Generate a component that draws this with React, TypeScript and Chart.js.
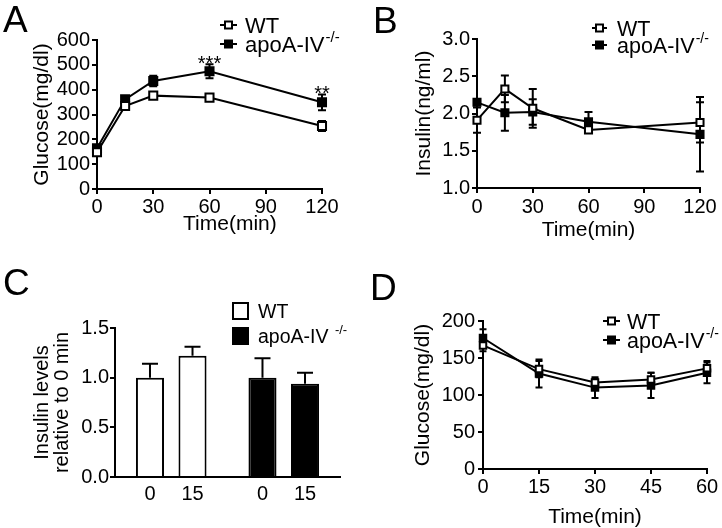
import React, { useEffect, useRef } from "react";
import { Chart, registerables } from "chart.js";

Chart.register(...registerables);

const FONT = "'Liberation Sans', Arial, Helvetica, sans-serif";

// ---------- shared legend text ----------
const seriesNames = ["WT", "apoA-IV"];
const seriesSup = ["", "-/-"];

// ---------- Panel A: glucose (mg/dl) ----------
const timeA = [0, 15, 30, 60, 120];
const glucoseWT_A = [148, 334, 376, 368, 254];
const glucoseWT_A_sem = [8, 8, 13, 10, 20];
const glucoseKO_A = [164, 361, 435, 474, 349];
const glucoseKO_A_sem = [10, 10, 21, 28, 32];
const sigA = ["", "", "", "***", "**"];
const yTicksA = [0, 100, 200, 300, 400, 500, 600];
const xTicksA = [0, 30, 60, 90, 120];

// ---------- Panel B: insulin (ng/ml) ----------
const timeB = [0, 15, 30, 60, 120];
const insulinWT_B = [1.91, 2.33, 2.07, 1.78, 1.88];
const insulinWT_B_sem = [0.17, 0.18, 0.26, 0.03, 0.27];
const insulinKO_B = [2.15, 2.01, 2.02, 1.89, 1.72];
const insulinKO_B_sem = [0.04, 0.24, 0.17, 0.13, 0.5];
const yTicksB = [1.0, 1.5, 2.0, 2.5, 3.0];
const xTicksB = [0, 30, 60, 90, 120];

// ---------- Panel C: insulin relative to 0 min ----------
const groupsC = ["WT", "apoA-IV-/-"];
const timesC = ["0", "15"];
const insulinRel0 = [1.0, 1.0];
const insulinRel0_sem = [0.14, 0.195];
const insulinRel15 = [1.22, 0.94];
const insulinRel15_sem = [0.09, 0.11];
const yTicksC = [0.0, 0.5, 1.0, 1.5];

// ---------- Panel D: glucose (mg/dl) ----------
const timeD = [0, 15, 30, 45, 60];
const glucoseWT_D = [167, 135, 117, 121, 136];
const glucoseWT_D_sem = [8, 11, 5, 9, 10];
const glucoseKO_D = [177, 129, 110, 113, 130];
const glucoseKO_D_sem = [12, 19, 14, 17, 14];
const yTicksD = [0, 50, 100, 150, 200];
const xTicksD = [0, 15, 30, 45, 60];

// ---------- plugins ----------
const errorBarsPlugin = {
  id: "errorBars",
  beforeDatasetsDraw(chart: any) {
    const ctx = chart.ctx;
    chart.data.datasets.forEach((ds: any, i: number) => {
      const errs = ds.errors;
      if (!errs) return;
      const meta = chart.getDatasetMeta(i);
      const yScale = chart.scales[meta.yAxisID];
      const cap = ds.errorCap || 8;
      const up = ds.errorMode === "up";
      ctx.save();
      ctx.strokeStyle = "#000";
      ctx.lineWidth = 2;
      meta.data.forEach((el: any, j: number) => {
        const raw = ds.data[j];
        const v = typeof raw === "object" ? raw.y : raw;
        const e = errs[j];
        if (!e) return;
        const x = el.x;
        const yTop = yScale.getPixelForValue(v + e);
        const yBot = up ? yScale.getPixelForValue(v) : yScale.getPixelForValue(v - e);
        ctx.beginPath();
        ctx.moveTo(x, yTop);
        ctx.lineTo(x, yBot);
        ctx.moveTo(x - cap / 2, yTop);
        ctx.lineTo(x + cap / 2, yTop);
        if (!up) {
          ctx.moveTo(x - cap / 2, yBot);
          ctx.lineTo(x + cap / 2, yBot);
        }
        ctx.stroke();
      });
      ctx.restore();
    });
  },
  afterDatasetsDraw(chart: any) {
    const ctx = chart.ctx;
    chart.data.datasets.forEach((ds: any, i: number) => {
      if (!ds.marks) return;
      const meta = chart.getDatasetMeta(i);
      const yScale = chart.scales[meta.yAxisID];
      ctx.save();
      ctx.fillStyle = "#000";
      ctx.font = `20px ${FONT}`;
      ctx.textAlign = "center";
      ctx.textBaseline = "alphabetic";
      meta.data.forEach((el: any, j: number) => {
        const m = ds.marks[j];
        if (!m) return;
        const raw = ds.data[j];
        const v = typeof raw === "object" ? raw.y : raw;
        const e = (ds.errors && ds.errors[j]) || 0;
        ctx.fillText(m, el.x, yScale.getPixelForValue(v + e) + 6);
      });
      ctx.restore();
    });
  },
};

const decorPlugin = {
  id: "decor",
  afterDraw(chart: any, _args: any, opts: any) {
    const ctx = chart.ctx;
    ctx.save();
    ctx.fillStyle = "#000";
    ctx.strokeStyle = "#000";
    if (opts.letter) {
      ctx.font = `37px ${FONT}`;
      ctx.textAlign = "left";
      ctx.textBaseline = "alphabetic";
      ctx.fillText(opts.letter.text, opts.letter.x, opts.letter.y);
    }
    if (opts.legend) {
      const L = opts.legend;
      const fs = L.fontSize || 21;
      L.rows.forEach((row: any) => {
        const cx = (L.mx0 + L.mx1) / 2;
        if (row.kind === "lineOpen" || row.kind === "lineFilled") {
          ctx.lineWidth = 2;
          ctx.beginPath();
          ctx.moveTo(L.mx0, row.y);
          ctx.lineTo(L.mx1, row.y);
          ctx.stroke();
          const s = L.sq || 7;
          ctx.fillStyle = row.kind === "lineOpen" ? "#fff" : "#000";
          ctx.fillRect(cx - s / 2, row.y - s / 2, s, s);
          ctx.strokeRect(cx - s / 2, row.y - s / 2, s, s);
          ctx.fillStyle = "#000";
        } else {
          ctx.lineWidth = 2;
          const w = L.mx1 - L.mx0;
          const h = L.boxH || 17;
          ctx.fillStyle = row.kind === "boxOpen" ? "#fff" : "#000";
          ctx.fillRect(L.mx0, row.y - h / 2, w, h);
          ctx.strokeRect(L.mx0 + 1, row.y - h / 2 + 1, w - 2, h - 2);
          ctx.fillStyle = "#000";
        }
        ctx.font = `${fs}px ${FONT}`;
        ctx.textAlign = "left";
        ctx.textBaseline = "alphabetic";
        ctx.fillText(row.text, L.tx, row.y + fs * 0.36);
        if (row.sup) {
          const w = ctx.measureText(row.text + (L.supGap ? " " : "")).width;
          ctx.font = `${Math.round(fs * 0.66)}px ${FONT}`;
          ctx.fillText(row.sup, L.tx + w + 1, row.y - fs * 0.1);
        }
      });
    }
    if (opts.barLabels) {
      ctx.font = `20px ${FONT}`;
      ctx.textAlign = "center";
      ctx.textBaseline = "middle";
      chart.data.datasets.forEach((ds: any, i: number) => {
        const meta = chart.getDatasetMeta(i);
        meta.data.forEach((el: any) => {
          ctx.fillText(ds.label, el.x, chart.chartArea.bottom + opts.barLabels.offset);
        });
      });
    }
    ctx.restore();
  },
};

// ---------- axis helpers ----------
const axisLine = { display: true, color: "#000", width: 2 };
const tickGrid = { display: true, drawOnChartArea: false, drawTicks: true, tickLength: 5, color: "#000", lineWidth: 2 };

function xLinear(ticks: number[], title: string, h: number, tp: number, pb: number) {
  return {
    type: "linear",
    min: ticks[0],
    max: ticks[ticks.length - 1],
    afterBuildTicks: (s: any) => {
      s.ticks = ticks.map((v) => ({ value: v }));
    },
    afterFit: (s: any) => {
      s.height = h;
    },
    border: axisLine,
    grid: tickGrid,
    ticks: { color: "#000", font: { family: FONT, size: 20 }, padding: tp, maxRotation: 0, autoSkip: false, callback: (v: any) => String(v) },
    title: { display: true, text: title, color: "#000", font: { family: FONT, size: 21, lineHeight: 1 }, padding: { top: 0, bottom: pb } },
  };
}

function yLinear(ticks: number[], dec: number, title: any, w: number, tp: number, pt: number, titleSize = 21) {
  return {
    type: "linear",
    min: ticks[0],
    max: ticks[ticks.length - 1],
    afterBuildTicks: (s: any) => {
      s.ticks = ticks.map((v) => ({ value: v }));
    },
    afterFit: (s: any) => {
      s.width = w;
    },
    border: axisLine,
    grid: tickGrid,
    ticks: { color: "#000", font: { family: FONT, size: 20 }, padding: tp, autoSkip: false, callback: (v: any) => Number(v).toFixed(dec) },
    title: { display: true, text: title, color: "#000", font: { family: FONT, size: titleSize, lineHeight: 1 }, padding: { top: pt, bottom: 0 } },
  };
}

function lineSet(label: string, xs: number[], ys: number[], errs: number[], open: boolean, r: number, cap: number, marks?: string[]) {
  return {
    label,
    data: xs.map((x, i) => ({ x, y: ys[i] })),
    errors: errs,
    errorCap: cap,
    marks,
    borderColor: "#000",
    borderWidth: 2,
    tension: 0,
    pointStyle: "rect",
    pointRadius: r,
    pointBackgroundColor: open ? "#fff" : "#000",
    pointBorderColor: "#000",
    pointBorderWidth: 2,
    clip: false,
  };
}

const baseOpts = {
  responsive: false,
  animation: false,
  devicePixelRatio: 1,
  events: [],
};

const legendRowsLine = (ys: number[]) => [
  { y: ys[0], text: seriesNames[0], sup: seriesSup[0], kind: "lineOpen" },
  { y: ys[1], text: seriesNames[1], sup: seriesSup[1], kind: "lineFilled" },
];

// ---------- configs ----------
const configA: any = {
  type: "line",
  data: {
    datasets: [
      lineSet("WT", timeA, glucoseWT_A, glucoseWT_A_sem, true, 5.7, 8),
      lineSet("apoA-IV-/-", timeA, glucoseKO_A, glucoseKO_A_sem, false, 5.7, 8, sigA),
    ],
  },
  options: {
    ...baseOpts,
    layout: { padding: { left: 0, top: 40, right: 38, bottom: 0 } },
    scales: {
      x: xLinear(xTicksA, "       Time(min)", 71, 1, 25),
      y: yLinear(yTicksA, 0, "Glucose(mg/dl)", 97, 2, 31.5),
    },
    plugins: {
      legend: { display: false },
      tooltip: { enabled: false },
      decor: {
        letter: { text: "A", x: 3, y: 32 },
        legend: { mx0: 220, mx1: 237, tx: 245, fontSize: 22, rows: legendRowsLine([25, 44]) },
      },
    },
  },
  plugins: [errorBarsPlugin, decorPlugin],
};

const configB: any = {
  type: "line",
  data: {
    datasets: [
      lineSet("WT", timeB, insulinWT_B, insulinWT_B_sem, true, 5, 8),
      lineSet("apoA-IV-/-", timeB, insulinKO_B, insulinKO_B_sem, false, 5, 8),
    ],
  },
  options: {
    ...baseOpts,
    layout: { padding: { left: 0, top: 39, right: 22, bottom: 0 } },
    scales: {
      x: xLinear(xTicksB, "Time(min)", 72, 2.5, 19.5),
      y: yLinear(yTicksB, 1, "Insulin(ng/ml)", 117, 2, 53.5),
    },
    plugins: {
      legend: { display: false },
      tooltip: { enabled: false },
      decor: {
        letter: { text: "B", x: 13, y: 33 },
        legend: { mx0: 232, mx1: 247, tx: 257, fontSize: 21.5, rows: legendRowsLine([28, 45]) },
      },
    },
  },
  plugins: [errorBarsPlugin, decorPlugin],
};

const configC: any = {
  type: "bar",
  data: {
    labels: groupsC,
    datasets: [
      {
        label: timesC[0],
        data: insulinRel0,
        errors: insulinRel0_sem,
        errorMode: "up",
        errorCap: 16,
        backgroundColor: ["#fff", "#000"],
        borderColor: "#000",
        borderWidth: 2,
        categoryPercentage: 0.756,
        barPercentage: 0.66,
      },
      {
        label: timesC[1],
        data: insulinRel15,
        errors: insulinRel15_sem,
        errorMode: "up",
        errorCap: 16,
        backgroundColor: ["#fff", "#000"],
        borderColor: "#000",
        borderWidth: 2,
        categoryPercentage: 0.756,
        barPercentage: 0.66,
      },
    ],
  },
  options: {
    ...baseOpts,
    layout: { padding: { left: 0, top: 68, right: 20, bottom: 0 } },
    scales: {
      x: {
        type: "category",
        afterFit: (s: any) => {
          s.height = 51;
        },
        border: axisLine,
        grid: { display: true, drawOnChartArea: false, drawTicks: false },
        ticks: { display: false },
      },
      y: yLinear(yTicksC, 1, ["Insulin levels", "relative to 0 min"], 115, 1, 32, 20),
    },
    plugins: {
      legend: { display: false },
      tooltip: { enabled: false },
      decor: {
        letter: { text: "C", x: 3, y: 35 },
        legend: {
          mx0: 232,
          mx1: 249,
          tx: 258,
          boxH: 18,
          fontSize: 19.5,
          supGap: true,
          rows: [
            { y: 51, text: seriesNames[0], sup: seriesSup[0], kind: "boxOpen" },
            { y: 76, text: seriesNames[1], sup: seriesSup[1], kind: "boxFilled" },
          ],
        },
        barLabels: { offset: 17.5 },
      },
    },
  },
  plugins: [errorBarsPlugin, decorPlugin],
};

const configD: any = {
  type: "line",
  data: {
    datasets: [
      lineSet("WT", timeD, glucoseWT_D, glucoseWT_D_sem, true, 4.6, 7),
      lineSet("apoA-IV-/-", timeD, glucoseKO_D, glucoseKO_D_sem, false, 4.6, 7),
    ],
  },
  options: {
    ...baseOpts,
    layout: { padding: { left: 0, top: 61, right: 15, bottom: 0 } },
    scales: {
      x: xLinear(xTicksD, "Time(min)", 59, 1, 0),
      y: yLinear(yTicksD, 0, "Glucose(mg/dl)", 123, 3, 52.5),
    },
    plugins: {
      legend: { display: false },
      tooltip: { enabled: false },
      decor: {
        letter: { text: "D", x: 10, y: 40 },
        legend: { mx0: 243, mx1: 260, tx: 267, fontSize: 21.5, rows: legendRowsLine([61, 80]) },
      },
    },
  },
  plugins: [errorBarsPlugin, decorPlugin],
};

function Panel({ left, top, width, height, config }: any) {
  const ref = useRef<HTMLCanvasElement | null>(null);
  useEffect(() => {
    if (!ref.current) return;
    const chart = new Chart(ref.current, config);
    return () => chart.destroy();
  }, [config]);
  return (
    <div style={{ position: "absolute", left, top, width, height }}>
      <canvas ref={ref} width={width} height={height} style={{ width, height, display: "block" }} />
    </div>
  );
}

export default function App() {
  return (
    <div style={{ position: "absolute", left: 0, top: 0, width: 722, height: 528, background: "#fff", overflow: "hidden" }}>
      <Panel left={0} top={0} width={360} height={260} config={configA} />
      <Panel left={360} top={0} width={362} height={260} config={configB} />
      <Panel left={0} top={260} width={360} height={268} config={configC} />
      <Panel left={360} top={260} width={362} height={268} config={configD} />
    </div>
  );
}
